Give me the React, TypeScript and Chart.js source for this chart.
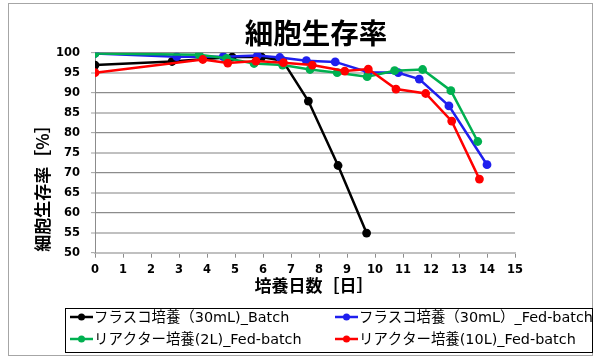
import React, { useEffect, useRef } from "react";
import { Chart, registerables } from "chart.js";

Chart.register(...registerables);

const TITLE = "細胞生存率";
const X_TITLE = "培養日数［日］";
const Y_TITLE = "細胞生存率［%］";

const SERIES_NAMES = [
  "フラスコ培養（30mL)_Batch",
  "フラスコ培養（30mL）_Fed-batch",
  "リアクター培養(2L)_Fed-batch",
  "リアクター培養(10L)_Fed-batch",
];
const SERIES_COLORS = ["#000000", "#1f1fee", "#00b050", "#ff0000"];

const batchDays = [0, 2.75, 4.9, 5.95, 6.7, 7.62, 8.68, 9.7];
const batchViab = [96.9, 97.8, 98.9, 98.9, 98.0, 87.9, 71.8, 54.9];

const fedFlaskDays = [0, 2.92, 4.58, 5.8, 6.6, 7.55, 8.58, 9.76, 10.83, 11.58, 12.64, 14.0];
const fedFlaskViab = [99.8, 99.0, 99.0, 99.3, 98.8, 98.0, 97.7, 95.1, 95.0, 93.4, 86.7, 72.0];

const reactor2Days = [0, 3.72, 4.7, 5.68, 6.7, 7.68, 8.65, 9.72, 10.7, 11.7, 12.71, 13.67];
const reactor2Viab = [99.8, 99.5, 98.6, 97.3, 96.9, 95.8, 95.0, 94.0, 95.5, 95.8, 90.5, 77.8];

const reactor10Days = [0, 3.85, 4.74, 5.75, 6.73, 7.76, 8.92, 9.76, 10.75, 11.81, 12.74, 13.73];
const reactor10Viab = [95.0, 98.3, 97.4, 97.9, 97.5, 96.9, 95.4, 95.9, 90.9, 89.8, 82.9, 68.4];

const X_MIN = 0;
const X_MAX = 15;
const Y_MIN = 50;
const Y_MAX = 100;

const toPoints = (xs: number[], ys: number[]) => xs.map((x, i) => ({ x, y: ys[i] }));

const LATIN_FONT = "'DejaVu Sans', 'Noto Sans CJK JP', sans-serif";
const CJK_FONT = "'Noto Sans CJK JP', 'DejaVu Sans', sans-serif";

const framePlugin = {
  id: "frameAndLegend",
  afterDraw(chart: any) {
    const ctx = chart.ctx as CanvasRenderingContext2D;
    ctx.save();
    // outer frame
    ctx.strokeStyle = "#a6a6a6";
    ctx.lineWidth = 1;
    ctx.strokeRect(8.5, 3.5, 584, 352);

    // chart title
    ctx.fillStyle = "#000000";
    ctx.textAlign = "center";
    ctx.textBaseline = "middle";
    ctx.font = `bold 28.5px ${CJK_FONT}`;
    ctx.fillText(TITLE, 316, 33);

    // x axis title
    ctx.font = `bold 17px ${CJK_FONT}`;
    ctx.fillText(X_TITLE, 314, 286);

    // y axis title
    ctx.save();
    ctx.translate(43, 184);
    ctx.rotate(-Math.PI / 2);
    ctx.fillText(Y_TITLE, 0, 0);
    ctx.restore();

    // legend box
    ctx.strokeStyle = "#000000";
    ctx.lineWidth = 1;
    ctx.strokeRect(65.5, 308.5, 527, 44);
    const cols = [70, 335];
    const rows = [317, 339];
    chart.data.datasets.forEach((ds: any, i: number) => {
      const x = cols[i % 2];
      const y = rows[Math.floor(i / 2)];
      ctx.strokeStyle = ds.borderColor;
      ctx.lineWidth = 2.5;
      ctx.beginPath();
      ctx.moveTo(x, y);
      ctx.lineTo(x + 23, y);
      ctx.stroke();
      ctx.fillStyle = ds.borderColor;
      ctx.beginPath();
      ctx.arc(x + 11.5, y, 3.5, 0, Math.PI * 2);
      ctx.fill();
      ctx.fillStyle = "#000000";
      ctx.font = `14.4px ${LATIN_FONT}`;
      ctx.textBaseline = "middle";
      ctx.textAlign = "left";
      ctx.fillText(ds.label, x + 24, y + 1);
    });
    ctx.restore();
  },
};

export default function App() {
  const ref = useRef<HTMLCanvasElement>(null);

  useEffect(() => {
    if (!ref.current) return;
    const allDays = [batchDays, fedFlaskDays, reactor2Days, reactor10Days];
    const allViab = [batchViab, fedFlaskViab, reactor2Viab, reactor10Viab];
    const orders = [4, 3, 2, 1];
    const chart = new Chart(ref.current, {
      type: "line",
      data: {
        datasets: SERIES_NAMES.map((name, i) => ({
          label: name,
          data: toPoints(allDays[i], allViab[i]),
          borderColor: SERIES_COLORS[i],
          backgroundColor: SERIES_COLORS[i],
          pointBackgroundColor: SERIES_COLORS[i],
          pointBorderColor: SERIES_COLORS[i],
          borderWidth: 2.5,
          pointRadius: 4.4,
          pointBorderWidth: 0,
          tension: 0,
          fill: false,
          order: orders[i],
        })),
      },
      options: {
        responsive: false,
        animation: false,
        layout: { padding: { left: 0, right: 85, top: 52.7, bottom: 60 } },
        plugins: {
          legend: { display: false },
          tooltip: { enabled: false },
          title: { display: false },
        },
        scales: {
          x: {
            type: "linear",
            min: X_MIN,
            max: X_MAX,
            afterFit: (s: any) => {
              s.height = 47.3;
            },
            ticks: {
              stepSize: 1,
              color: "#000000",
              padding: 5,
              font: { family: LATIN_FONT, size: 11.5, weight: "bold" },
            },
            grid: {
              drawOnChartArea: false,
              drawTicks: true,
              tickLength: 5,
              tickColor: "#8c8c8c",
              tickWidth: 1,
            },
            border: { color: "#c0c0c0", width: 2 },
            title: { display: false },
          },
          y: {
            type: "linear",
            min: Y_MIN,
            max: Y_MAX,
            afterFit: (s: any) => {
              s.width = 95;
            },
            ticks: {
              stepSize: 5,
              color: "#000000",
              padding: 11,
              font: { family: LATIN_FONT, size: 11.5, weight: "bold" },
            },
            grid: {
              color: (c: any) => (c.tick && c.tick.value % 10 === 0 ? "#8c8c8c" : "#c0c0c0"),
              lineWidth: (c: any) => (c.tick && c.tick.value % 10 === 0 ? 1.3 : 2),
              tickLength: 4,
              tickColor: "#a0a0a0",
              tickWidth: 1,
            },
            border: { color: "#8c8c8c", width: 1 },
            title: { display: false },
          },
        },
      },
      plugins: [framePlugin],
    } as any);
    return () => chart.destroy();
  }, []);

  return (
    <div style={{ position: "fixed", left: 0, top: 0, width: 600, height: 360, background: "#ffffff" }}>
      <canvas ref={ref} width={600} height={360} style={{ display: "block" }} />
    </div>
  );
}
